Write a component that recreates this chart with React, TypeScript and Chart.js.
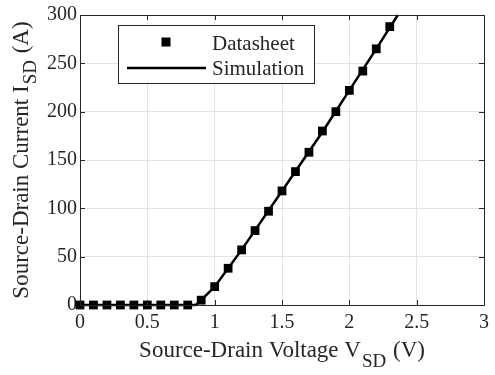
import React, { useEffect, useRef } from "react";
import { Chart, registerables } from "chart.js";

Chart.register(...registerables);

const datasheetV = [0, 0.1, 0.2, 0.3, 0.4, 0.5, 0.6, 0.7, 0.8, 0.9, 1.0, 1.1, 1.2, 1.3, 1.4, 1.5, 1.6, 1.7, 1.8, 1.9, 2.0, 2.1, 2.2, 2.3];
const datasheetI = [0, 0, 0, 0, 0, 0, 0, 0, 0, 5, 19, 38, 57, 77, 97, 118, 138, 158, 180, 200, 222, 242, 265, 288];
const simV = [0, 0.86, 0.9, 1.0, 1.2, 1.5, 1.8, 2.0, 2.2, 2.36];
const simI = [0, 0, 5, 19, 57, 118, 179, 222, 265, 300];
const xTickValues = [0, 0.5, 1, 1.5, 2, 2.5, 3];
const yTickValues = [0, 50, 100, 150, 200, 250, 300];
const xTitleParts = ["Source-Drain Voltage V", "SD", " (V)"];
const yTitleParts = ["Source-Drain Current I", "SD", " (A)"];
const legendLabels = ["Datasheet", "Simulation"];

const SERIF = "'Liberation Serif','Times New Roman',serif";
const INK = "#262626";

function drawSubTitle(ctx: CanvasRenderingContext2D, parts: string[], cx: number, baseY: number, mainSize: number, subSize: number, subDrop: number) {
  ctx.font = `${mainSize}px ${SERIF}`;
  const w0 = ctx.measureText(parts[0]).width;
  const w2 = ctx.measureText(parts[2]).width;
  ctx.font = `${subSize}px ${SERIF}`;
  const w1 = ctx.measureText(parts[1]).width + 2;
  const total = w0 + w1 + w2;
  let x = cx - total / 2;
  ctx.textAlign = "left";
  ctx.textBaseline = "alphabetic";
  ctx.fillStyle = INK;
  ctx.font = `${mainSize}px ${SERIF}`;
  ctx.fillText(parts[0], x, baseY);
  x += w0 + 1;
  ctx.font = `${subSize}px ${SERIF}`;
  ctx.fillText(parts[1], x, baseY + subDrop);
  x += w1 - 1;
  ctx.font = `${mainSize}px ${SERIF}`;
  ctx.fillText(parts[2], x, baseY);
}

const decorPlugin = {
  id: "decor",
  afterDraw(chart: any) {
    const ctx: CanvasRenderingContext2D = chart.ctx;
    const a = chart.chartArea;
    const xs = chart.scales.x;
    const ys = chart.scales.y;
    ctx.save();
    // frame
    ctx.strokeStyle = INK;
    ctx.lineWidth = 1;
    ctx.strokeRect(Math.round(a.left) + 0.5, Math.round(a.top) + 0.5, Math.round(a.right - a.left), Math.round(a.bottom - a.top));
    // inner ticks
    const tl = 5;
    ctx.beginPath();
    for (const v of xTickValues) {
      const px = Math.round(xs.getPixelForValue(v)) + 0.5;
      ctx.moveTo(px, a.bottom);
      ctx.lineTo(px, a.bottom - tl);
      ctx.moveTo(px, a.top);
      ctx.lineTo(px, a.top + tl);
    }
    for (const v of yTickValues) {
      const py = Math.round(ys.getPixelForValue(v)) + 0.5;
      ctx.moveTo(a.left, py);
      ctx.lineTo(a.left + tl, py);
      ctx.moveTo(a.right, py);
      ctx.lineTo(a.right - tl, py);
    }
    ctx.stroke();

    // axis titles
    drawSubTitle(ctx, xTitleParts, (a.left + a.right) / 2, 357, 23, 19, 10);
    ctx.save();
    ctx.translate(28, (a.top + a.bottom) / 2);
    ctx.rotate(-Math.PI / 2);
    drawSubTitle(ctx, yTitleParts, 0, 0, 23, 19, 8);
    ctx.restore();

    // legend
    const lx = 118.5, ly = 25.5, lw = 196, lh = 58;
    ctx.fillStyle = "#ffffff";
    ctx.fillRect(lx, ly, lw, lh);
    ctx.strokeStyle = INK;
    ctx.lineWidth = 1;
    ctx.strokeRect(lx, ly, lw, lh);
    ctx.fillStyle = "#000";
    ctx.fillRect(166 - 4.5, 42 - 4.5, 9, 9);
    ctx.strokeStyle = "#000";
    ctx.lineWidth = 2.5;
    ctx.beginPath();
    ctx.moveTo(127, 68);
    ctx.lineTo(206, 68);
    ctx.stroke();
    ctx.fillStyle = INK;
    ctx.font = `21px ${SERIF}`;
    ctx.textAlign = "left";
    ctx.textBaseline = "alphabetic";
    ctx.fillText(legendLabels[0], 212, 50);
    ctx.fillText(legendLabels[1], 212, 75);
    ctx.restore();
  },
};

export default function App() {
  const ref = useRef<HTMLCanvasElement | null>(null);
  useEffect(() => {
    if (!ref.current) return;
    const chart = new Chart(ref.current, {
      type: "scatter",
      data: {
        datasets: [
          {
            label: legendLabels[0],
            data: datasheetV.map((v, i) => ({ x: v, y: datasheetI[i] })),
            pointStyle: "rect",
            pointRadius: 6.2,
            pointHoverRadius: 6.2,
            backgroundColor: "#000",
            borderColor: "#000",
            borderWidth: 0,
            showLine: false,
            clip: false,
          } as any,
          {
            label: legendLabels[1],
            data: simV.map((v, i) => ({ x: v, y: simI[i] })),
            pointRadius: 0,
            borderColor: "#000",
            backgroundColor: "#000",
            borderWidth: 2.5,
            showLine: true,
            tension: 0,
            clip: false,
          } as any,
        ],
      },
      options: {
        responsive: false,
        animation: false,
        events: [],
        layout: { padding: { top: 10, right: 5, left: 0, bottom: 0 }, autoPadding: false } as any,
        plugins: { legend: { display: false }, tooltip: { enabled: false } },
        scales: {
          x: {
            type: "linear",
            min: 0,
            max: 3,
            afterBuildTicks: (s: any) => {
              s.ticks = xTickValues.map((v) => ({ value: v }));
            },
            afterFit: (s: any) => {
              s.height = 70;
            },
            ticks: {
              color: INK,
              font: { family: SERIF, size: 20 },
              padding: 6,
              maxRotation: 0,
              autoSkip: false,
              callback: (v: any) => String(v),
            },
            grid: { color: "#e2e2e2", lineWidth: 1, drawTicks: false },
            border: { display: false },
          },
          y: {
            type: "linear",
            min: 0,
            max: 300,
            afterBuildTicks: (s: any) => {
              s.ticks = yTickValues.map((v) => ({ value: v }));
            },
            afterFit: (s: any) => {
              s.width = 80;
            },
            ticks: {
              color: INK,
              font: { family: SERIF, size: 20 },
              padding: 3,
              autoSkip: false,
              callback: (v: any) => String(v),
            },
            grid: { color: "#e2e2e2", lineWidth: 1, drawTicks: false },
            border: { display: false },
          },
        },
      },
      plugins: [decorPlugin],
    });
    return () => chart.destroy();
  }, []);
  return (
    <div style={{ position: "absolute", left: 0, top: 0, width: 495, height: 375, background: "#fff" }}>
      <canvas ref={ref} width={495} height={375} style={{ display: "block" }} />
    </div>
  );
}
